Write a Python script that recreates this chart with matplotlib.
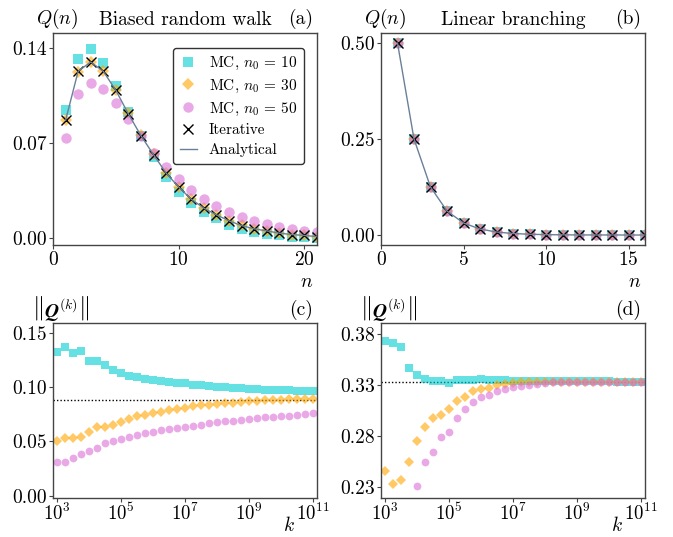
import numpy as np
import matplotlib
matplotlib.use("Agg")
import matplotlib.pyplot as plt
from matplotlib.ticker import FormatStrFormatter, NullLocator, FixedLocator

plt.rcParams.update({
    "font.family": "serif",
    "font.serif": ["cmr10"],
    "mathtext.fontset": "cm",
    "axes.formatter.use_mathtext": True,
    "axes.unicode_minus": False,
})

# ---- (a) biased random walk ----
n_a = list(range(1, 22))
mc10_a = [0.094, 0.132, 0.139, 0.129, 0.112, 0.093, 0.075, 0.060, 0.045, 0.034,
          0.026, 0.019, 0.015, 0.010, 0.0066, 0.0044, 0.0030, 0.0020, 0.0012,
          0.0007, 0.0003]
mc30_a = [0.087, 0.122, 0.130, 0.123, 0.109, 0.092, 0.076, 0.062, 0.048, 0.038,
          0.029, 0.022, 0.017, 0.013, 0.0095, 0.0070, 0.0054, 0.0037, 0.0027,
          0.0020, 0.0012]
mc50_a = [0.074, 0.106, 0.114, 0.110, 0.0995, 0.088, 0.0754, 0.0626, 0.0523,
          0.0435, 0.0356, 0.0292, 0.0238, 0.0194, 0.0155, 0.0125, 0.0103,
          0.0084, 0.0066, 0.0054, 0.0042]
iter_a = [0.0867, 0.1228, 0.1297, 0.1228, 0.1088, 0.0914, 0.0754, 0.0614,
          0.0479, 0.0376, 0.0287, 0.0221, 0.0172, 0.0128, 0.0093, 0.0069,
          0.0054, 0.0037, 0.0027, 0.0020, 0.0012]
analytic_a = iter_a

# ---- (b) linear branching ----
n_b = list(range(1, 17))
q_b = [0.5, 0.25, 0.125, 0.0625, 0.0313, 0.0156, 0.0078, 0.0039, 0.0020,
       0.0010, 0.0005, 0.0002, 0.0001, 0.0001, 0.0, 0.0]

# ---- (c), (d) convergence with number of samples k ----
k_exp = [3.0, 3.25, 3.5, 3.75, 4.0, 4.25, 4.5, 4.75, 5.0, 5.25, 5.5, 5.75,
         6.0, 6.25, 6.5, 6.75, 7.0, 7.25, 7.5, 7.75, 8.0, 8.25, 8.5, 8.75,
         9.0, 9.25, 9.5, 9.75, 10.0, 10.25, 10.5, 10.75, 11.0]
k_vals = [10.0 ** e for e in k_exp]

mc10_c = [0.132, 0.1366, 0.131, 0.1332, 0.1239, 0.1239, 0.1205, 0.1155, 0.1127,
          0.1106, 0.1096, 0.1078, 0.1062, 0.1053, 0.1043, 0.1040, 0.1034,
          0.1022, 0.1016, 0.1009, 0.1003, 0.1000, 0.0994, 0.0988, 0.0984,
          0.0981, 0.0978, 0.0975, 0.0972, 0.0972, 0.0969, 0.0966, 0.0963]
mc30_c = [0.0503, 0.0531, 0.0528, 0.0543, 0.0590, 0.0630, 0.0630, 0.0655,
          0.0683, 0.0708, 0.0730, 0.0745, 0.0764, 0.0773, 0.0789, 0.0798,
          0.0811, 0.0823, 0.0832, 0.0839, 0.0848, 0.0854, 0.0857, 0.0866,
          0.0873, 0.0876, 0.0879, 0.0882, 0.0885, 0.0888, 0.0891, 0.0894,
          0.0894]
mc50_c = [0.0314, 0.0314, 0.0348, 0.0385, 0.0413, 0.0444, 0.0484, 0.0500,
          0.0522, 0.0543, 0.0562, 0.0575, 0.0590, 0.0602, 0.0615, 0.0627,
          0.0637, 0.0646, 0.0655, 0.0668, 0.0677, 0.0686, 0.0693, 0.0702,
          0.0708, 0.0714, 0.0721, 0.0727, 0.0733, 0.0739, 0.0745, 0.0755,
          0.0761]
exact_c = 0.088

mc10_d = [0.3731, 0.3718, 0.3678, 0.3468, 0.3405, 0.3362, 0.3343, 0.3343,
          0.3323, 0.3353, 0.3349, 0.3356, 0.3357, 0.3350, 0.3350, 0.3348,
          0.3346, 0.3345, 0.3344, 0.3343, 0.3342, 0.3341, 0.3340, 0.3340,
          0.3339, 0.3338, 0.3338, 0.3337, 0.3337, 0.3336, 0.3336, 0.3336,
          0.3335]
mc30_d = [0.2461, 0.2329, 0.2369, 0.2550, 0.2757, 0.2895, 0.2978, 0.3004,
          0.3066, 0.3149, 0.3185, 0.3241, 0.3259, 0.3275, 0.3298, 0.3315,
          0.3325, 0.3330, 0.3332, 0.3333, 0.3333, 0.3333, 0.3333, 0.3333,
          0.3333, 0.3333, 0.3333, 0.3333, 0.3333, 0.3333, 0.3333, 0.3333,
          0.3333]
mc50_d = [np.nan, np.nan, np.nan, np.nan, 0.2313, 0.2543, 0.2642, 0.2790,
          0.2846, 0.2977, 0.3070, 0.3135, 0.3183, 0.3207, 0.3242, 0.3266,
          0.3278, 0.3295, 0.3305, 0.3315, 0.3322, 0.3328, 0.3330, 0.3332,
          0.3333, 0.3333, 0.3333, 0.3333, 0.3333, 0.3333, 0.3333, 0.3333,
          0.3333]
exact_d = 0.3333

labels = [r"MC, $n_0\,=\,10$", r"MC, $n_0\,=\,30$", r"MC, $n_0\,=\,50$",
          "Iterative", "Analytical"]

C_SQ = "#00CED1"
C_DI = "#FFA500"
C_CI = "#DA70D6"
C_LINE = "#6A8098"
ALPHA = 0.6
SPINE = "#444444"
FS = 14

W, H = 673, 537
fig = plt.figure(figsize=(W / 100, H / 100), dpi=100)


def px_axes(left, top, right, bottom):
    return fig.add_axes([left / W, 1 - bottom / H, (right - left) / W,
                         (bottom - top) / H])


ax_a = px_axes(53, 33, 317, 245)
ax_b = px_axes(381, 33, 645, 245)
ax_c = px_axes(53, 323, 317, 498)
ax_d = px_axes(381, 323, 645, 498)


def style(ax):
    for sp in ax.spines.values():
        sp.set_color(SPINE)
        sp.set_linewidth(1.0)
    ax.tick_params(which="both", direction="out", length=3, width=0.8,
                   color=SPINE, labelsize=FS, pad=1.5, top=False, right=False)
    ax.tick_params(axis="x", pad=1.0)


def top_panel(ax, n, s10, s30, s50, it, an, big=True):
    ms = 7.5 if big else 5.5
    ax.plot(n, s10, "s", color=C_SQ, alpha=ALPHA, ms=ms, mew=0, ls="none",
            label=labels[0])
    ax.plot(n, s30, "D", color=C_DI, alpha=ALPHA, ms=ms * 0.88, mew=0,
            ls="none", label=labels[1])
    ax.plot(n, s50, "o", color=C_CI, alpha=ALPHA, ms=ms, mew=0, ls="none",
            label=labels[2])
    ax.plot(n, it, "x", color="black", ms=6.5, mew=1.0, ls="none",
            label=labels[3])
    ax.plot(n, an, "-", color=C_LINE, lw=1.0, label=labels[4])


# (a)
top_panel(ax_a, n_a, mc10_a, mc30_a, mc50_a, iter_a, analytic_a)
ax_a.set_xlim(0, 21)
ax_a.set_ylim(-0.005, 0.151)
ax_a.set_xticks([0, 10, 20])
ax_a.set_yticks([0.0, 0.07, 0.14])
ax_a.yaxis.set_major_formatter(FormatStrFormatter("%.2f"))
leg = ax_a.legend(loc="upper right", bbox_to_anchor=(0.951, 0.929),
                  borderaxespad=0, fontsize=11, frameon=True, fancybox=True,
                  framealpha=1, edgecolor="#333333", handlelength=1.1,
                  handletextpad=0.8, labelspacing=0.38, borderpad=0.45)
leg.get_frame().set_linewidth(1.0)

# (b)
top_panel(ax_b, n_b, q_b, q_b, q_b, q_b, q_b)
ax_b.set_xlim(0, 16)
ax_b.set_ylim(-0.026, 0.526)
ax_b.set_xticks([0, 5, 10, 15])
ax_b.set_yticks([0.0, 0.25, 0.5])
ax_b.yaxis.set_major_formatter(FormatStrFormatter("%.2f"))


def bottom_panel(ax, s10, s30, s50, exact):
    ax.axhline(exact, color="black", ls=(0, (1, 1.5)), lw=1.0, zorder=1)
    ax.plot(k_vals, s10, "s", color=C_SQ, alpha=ALPHA, ms=5.6, mew=0,
            ls="none")
    ax.plot(k_vals, s30, "D", color=C_DI, alpha=ALPHA, ms=4.7, mew=0,
            ls="none")
    ax.plot(k_vals, s50, "o", color=C_CI, alpha=ALPHA, ms=5.6, mew=0,
            ls="none")
    ax.set_xscale("log")
    ax.set_xlim(10 ** 2.88, 10 ** 11.12)
    ax.xaxis.set_major_locator(FixedLocator([1e3, 1e5, 1e7, 1e9, 1e11]))
    ax.xaxis.set_minor_locator(NullLocator())


bottom_panel(ax_c, mc10_c, mc30_c, mc50_c, exact_c)
ax_c.set_ylim(-0.002, 0.159)
ax_c.set_yticks([0.0, 0.05, 0.10, 0.15])
ax_c.yaxis.set_major_formatter(FormatStrFormatter("%.2f"))

bottom_panel(ax_d, mc10_d, mc30_d, mc50_d, exact_d)
ax_d.set_ylim(0.2195, 0.391)
ax_d.set_yticks([0.23, 0.28, 0.33, 0.38])
ax_d.yaxis.set_major_formatter(FormatStrFormatter("%.2f"))

for ax in (ax_a, ax_b, ax_c, ax_d):
    style(ax)
for ax in (ax_c, ax_d):
    ax.tick_params(axis="x", labelsize=13.5, pad=0.5)

# Panel annotations
ax_a.text(0.015, 1.01, r"$Q(n)$", transform=ax_a.transAxes, ha="center",
          va="bottom", fontsize=FS)
ax_a.text(0.5, 1.02, "Biased random walk", transform=ax_a.transAxes,
          ha="center", va="bottom", fontsize=FS)
ax_a.text(0.985, 1.02, "(a)", transform=ax_a.transAxes, ha="right",
          va="bottom", fontsize=FS)
ax_a.text(0.985, -0.175, r"$n$", transform=ax_a.transAxes, ha="right",
          va="center", fontsize=FS)

ax_b.text(0.015, 1.01, r"$Q(n)$", transform=ax_b.transAxes, ha="center",
          va="bottom", fontsize=FS)
ax_b.text(0.5, 1.02, "Linear branching", transform=ax_b.transAxes,
          ha="center", va="bottom", fontsize=FS)
ax_b.text(0.985, 1.02, "(b)", transform=ax_b.transAxes, ha="right",
          va="bottom", fontsize=FS)
ax_b.text(0.985, -0.175, r"$n$", transform=ax_b.transAxes, ha="right",
          va="center", fontsize=FS)

for ax, tag in ((ax_c, "(c)"), (ax_d, "(d)")):
    ax.text(0.027, 1.0, r"$\left\Vert\boldsymbol{Q}^{(k)}\right\Vert$",
            transform=ax.transAxes, ha="center", va="bottom", fontsize=FS)
    ax.text(0.985, 1.02, tag, transform=ax.transAxes, ha="right",
            va="bottom", fontsize=FS)
    ax.text(0.915, -0.19, r"$k$", transform=ax.transAxes, ha="right",
            va="baseline", fontsize=FS)

fig.savefig("out.png", dpi=100)
